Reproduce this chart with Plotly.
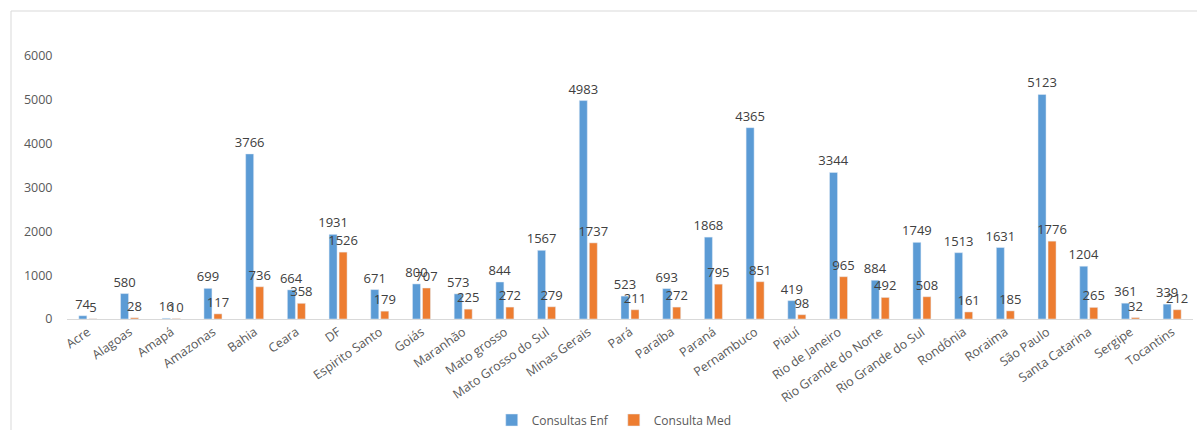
import plotly.graph_objects as go

states = ["Acre", "Alagoas", "Amapá", "Amazonas", "Bahia", "Ceara", "DF", "Espirito Santo",
          "Goiás", "Maranhão", "Mato grosso", "Mato Grosso do Sul", "Minas Gerais", "Pará",
          "Paraíba", "Paraná", "Pernambuco", "Piauí", "Rio de Janeiro", "Rio Grande do Norte",
          "Rio Grande do Sul", "Rondônia", "Roraima", "São Paulo", "Santa Catarina", "Sergipe",
          "Tocantins"]
consultas_enf = [74, 580, 16, 699, 3766, 664, 1931, 671, 800, 573, 844, 1567, 4983, 523,
                 693, 1868, 4365, 419, 3344, 884, 1749, 1513, 1631, 5123, 1204, 361, 339]
consulta_med = [5, 28, 10, 117, 736, 358, 1526, 179, 707, 225, 272, 279, 1737, 211,
                272, 795, 851, 98, 965, 492, 508, 161, 185, 1776, 265, 32, 212]
y_ticks = [0, 1000, 2000, 3000, 4000, 5000, 6000]

FONT = "Open Sans"
fig = go.Figure()
fig.add_trace(go.Bar(x=states, y=consultas_enf, name="Consultas Enf",
                     marker_color="#5B9BD5", text=consultas_enf, textposition="outside",
                     constraintext="none",
                     textfont=dict(size=13, color="#404040", family=FONT), cliponaxis=False))
fig.add_trace(go.Bar(x=states, y=consulta_med, name="Consulta Med",
                     marker_color="#ED7D31", text=consulta_med, textposition="outside",
                     constraintext="none",
                     textfont=dict(size=13, color="#404040", family=FONT), cliponaxis=False))

fig.update_layout(
    width=1197, height=430,
    margin=dict(l=67, r=4, t=56, b=111, autoexpand=False),
    paper_bgcolor="white", plot_bgcolor="white",
    barmode="group", bargap=0.52, bargroupgap=0.2,
    font=dict(family=FONT, size=12, color="#595959"),
    showlegend=True,
    legend=dict(orientation="h", x=0.486, xanchor="center",
                yref="container", y=10 / 430, yanchor="middle",
                font=dict(size=12, color="#595959", family=FONT), itemwidth=30),
    xaxis=dict(tickangle=-35, showline=True, linecolor="#D9D9D9", linewidth=1,
               showgrid=False, ticks="", automargin=False,
               tickfont=dict(size=12.5, color="#595959")),
    yaxis=dict(range=[0, 6000], tickvals=y_ticks, showgrid=False, zeroline=False,
               showline=False, ticks="outside", ticklen=11, tickcolor="rgba(0,0,0,0)",
               automargin=False,
               tickfont=dict(size=12.5, color="#595959")),
    shapes=[dict(type="rect", xref="paper", yref="paper",
                 x0=(11 - 67) / 1126, x1=1.05, y0=-0.6, y1=(319 - 11) / 263,
                 line=dict(color="#D9D9D9", width=1), fillcolor="rgba(0,0,0,0)", layer="below")],
)
fig.write_html("out.html")
